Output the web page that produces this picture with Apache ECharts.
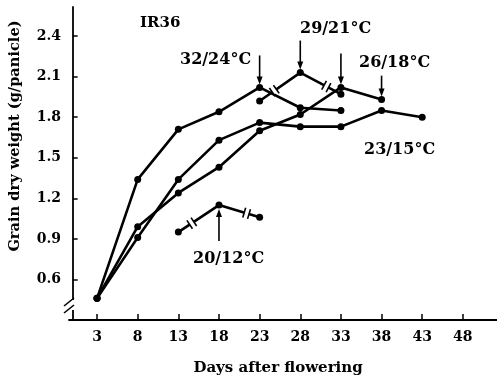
<!DOCTYPE html>
<html>
<head>
<meta charset="utf-8">
<script src="https://cdn.jsdelivr.net/npm/echarts@6/dist/echarts.min.js"></script>
<style>
  html, body { margin: 0; padding: 0; background: #fff; }
  #chart { width: 497px; height: 379px; }
</style>
</head>
<body>
<div id="chart"></div>
<script>
// Days after flowering at which panicles were sampled
const days = [3, 8, 13, 18, 23, 28, 33, 38, 43];
const xTicks = [3, 8, 13, 18, 23, 28, 33, 38, 43, 48];
const yTicks = [0.6, 0.9, 1.2, 1.5, 1.8, 2.1, 2.4];

// Grain dry weight (g/panicle) per temperature regime
const w3224 = [0.46, 1.34, 1.71, 1.84, 2.02, 1.87, 1.85];
const w2921 = [1.92, 2.13, 1.97];          // days 23, 28, 33
const w2618 = [0.46, 0.99, 1.24, 1.43, 1.70, 1.82, 2.02, 1.93];
const w2315 = [0.46, 0.91, 1.34, 1.63, 1.76, 1.73, 1.73, 1.85, 1.80];
const w2012 = [0.95, 1.15, 1.06];          // days 13, 18, 23
const days2921 = [23, 28, 33];
const days2012 = [13, 18, 23];

const labelFont = '"DejaVu Serif", serif';

function pairs(xs, ys) { return ys.map((v, i) => [xs[i], v]); }

function lineSeries(name, data) {
  return {
    name, type: 'line', data,
    symbol: 'circle', symbolSize: 7,
    lineStyle: { color: '#000', width: 2.6 },
    itemStyle: { color: '#000' },
    z: 3, animation: false
  };
}

const chart = echarts.init(document.getElementById('chart'), null, { renderer: 'canvas' });

const option = {
  animation: false,
  backgroundColor: '#fff',
  grid: { left: 69, right: 0, top: 7, bottom: 59 },
  xAxis: {
    type: 'value', min: -0.45, max: 52.2,
    axisLine: { lineStyle: { color: '#000', width: 1.8 } },
    axisTick: { inside: true, length: 6, customValues: xTicks, lineStyle: { color: '#000', width: 1.5 } },
    axisLabel: { customValues: xTicks, color: '#000', fontFamily: labelFont, fontWeight: 'bold', fontSize: 14, margin: 10 },
    splitLine: { show: false }
  },
  yAxis: {
    type: 'value', min: 0.3, max: 2.615,
    axisLine: { show: true, lineStyle: { color: '#000', width: 1.8 } },
    axisTick: { show: true, inside: true, length: 5, customValues: yTicks, lineStyle: { color: '#000', width: 1.5 } },
    axisLabel: { customValues: yTicks, color: '#000', fontFamily: labelFont, fontWeight: 'bold', fontSize: 14, margin: 8,
      formatter: v => v.toFixed(1) },
    splitLine: { show: false }
  },
  series: [
    lineSeries('32/24', pairs(days, w3224)),
    lineSeries('29/21', pairs(days2921, w2921)),
    lineSeries('26/18', pairs(days, w2618)),
    lineSeries('23/15', pairs(days, w2315)),
    lineSeries('20/12', pairs(days2012, w2012))
  ]
};
chart.setOption(option);

const px = (x, y) => chart.convertToPixel({ gridIndex: 0 }, [x, y]);
const g = [];

// break marks on the discontinuous segments
function breakMark(a, b, f) {
  const p0 = px(a[0], a[1]), p1 = px(b[0], b[1]);
  const dx = p1[0] - p0[0], dy = p1[1] - p0[1];
  const L = Math.hypot(dx, dy);
  const d = [dx / L, dy / L], n = [-d[1], d[0]];
  const c = [p0[0] + f * dx, p0[1] + f * dy];
  const gap = 2.5, h = 5;
  g.push({ type: 'line', z: 10, shape: { x1: c[0] - gap * d[0], y1: c[1] - gap * d[1], x2: c[0] + gap * d[0], y2: c[1] + gap * d[1] },
    style: { stroke: '#fff', lineWidth: 5 } });
  [-gap, gap].forEach(s => {
    const m = [c[0] + s * d[0], c[1] + s * d[1]];
    g.push({ type: 'line', z: 11, shape: { x1: m[0] - h * n[0], y1: m[1] - h * n[1], x2: m[0] + h * n[0], y2: m[1] + h * n[1] },
      style: { stroke: '#000', lineWidth: 1.6 } });
  });
}
const s2921 = pairs(days2921, w2921), s2012 = pairs(days2012, w2012);
breakMark(s2921[0], s2921[1], 0.36);
breakMark(s2921[1], s2921[2], 0.64);
breakMark(s2012[0], s2012[1], 0.33);
breakMark(s2012[1], s2012[2], 0.68);

// arrows marking the peak of each regime
function arrow(pt, len, fromBelow) {
  const p = px(pt[0], pt[1]);
  const x = p[0];
  const tip = fromBelow ? p[1] + 4 : p[1] - 3;
  const sgn = fromBelow ? 1 : -1;
  g.push({ type: 'line', z: 12, shape: { x1: x, y1: tip + sgn * len, x2: x, y2: tip + sgn * 5 },
    style: { stroke: '#000', lineWidth: 1.6 } });
  g.push({ type: 'polygon', z: 12, shape: { points: [[x - 3, tip + sgn * 8], [x + 3, tip + sgn * 8], [x, tip]] },
    style: { fill: '#000' } });
}
arrow([23, w3224[4]], 29, false);
arrow([28, w2921[1]], 29, false);
arrow([33, w2618[6]], 31, false);
arrow([38, w2618[7]], 21, false);
arrow([18, w2012[1]], 32, true);

// y-axis break
g.push({ type: 'rect', z: 20, shape: { x: 63, y: 300, width: 12, height: 10 }, style: { fill: '#fff' } });
g.push({ type: 'line', z: 21, shape: { x1: 64, y1: 306, x2: 74, y2: 298 }, style: { stroke: '#000', lineWidth: 1.6 } });
g.push({ type: 'line', z: 21, shape: { x1: 64, y1: 313, x2: 74, y2: 305 }, style: { stroke: '#000', lineWidth: 1.6 } });

// texts
function txt(text, x, y, size, align, rot) {
  g.push({ type: 'text', z: 30, x, y, rotation: rot || 0,
    style: { text, fill: '#000', font: 'bold ' + size + 'px ' + labelFont, align: align || 'left', verticalAlign: 'middle' } });
}
txt('IR36', 140, 23, 15);
txt('32/24\u00B0C', 180, 60, 16);
txt('29/21\u00B0C', 300, 29, 16);
txt('26/18\u00B0C', 359, 63, 16);
txt('23/15\u00B0C', 364, 150, 16);
txt('20/12\u00B0C', 193, 259, 16);
txt('Days after flowering', 278, 368, 15, 'center');
txt('Grain dry weight (g/panicle)', 15, 136, 14.6, 'center', Math.PI / 2);

chart.setOption({ graphic: g });
</script>
</body>
</html>
